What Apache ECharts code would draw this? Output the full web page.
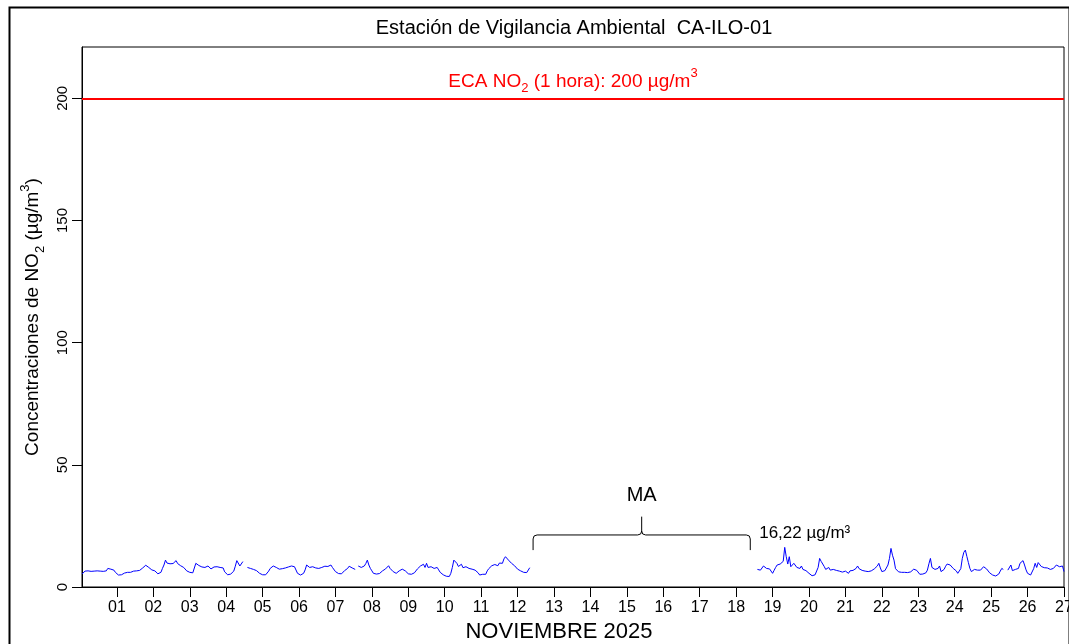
<!DOCTYPE html>
<html><head><meta charset="utf-8">
<style>html,body{margin:0;padding:0;background:#fff}#c{width:1069px;height:644px}</style>
<script src="https://cdn.jsdelivr.net/npm/echarts/dist/echarts.min.js"></script>
</head><body><div id="c"></div>
<script>
// ---------- DATA ----------
const chartTitle = 'Estación de Vigilancia Ambiental  CA-ILO-01';
const xAxisTitle = 'NOVIEMBRE 2025';
const dayLabels = ['01','02','03','04','05','06','07','08','09','10','11','12','13','14','15','16','17','18','19','20','21','22','23','24','25','26','27'];
const yTickValues = [0, 50, 100, 150, 200];
const ecaLimit = 200;
const firstHour = 1;          // first hourly record: 01 Nov 01:00
const lastHour = 648;         // 28 Nov 00:00
// hourly NO2 (µg/m³) from 01 Nov 01:00 until the monitoring gap (MA)
const no2BeforeMA = [
 5.3,6.0,6.5,6.7,6.6,6.3,6.4,6.1,6.5,6.3,6.6,6.2,6.5,6.8,6.4,7.0,6.6,7.6,7.0,7.3,6.5,6.9,6.0,5.2,
 4.9,4.8,5.0,5.4,5.7,5.9,6.0,6.1,6.0,6.3,6.5,6.4,6.6,6.9,6.8,7.2,7.8,8.3,8.9,8.5,8.0,7.6,7.0,6.6,
 6.6,6.0,5.4,5.3,6.0,7.6,9.0,11.0,9.8,9.4,9.5,9.7,9.6,9.8,10.8,9.6,9.0,8.7,8.4,8.0,7.4,6.6,6.3,6.0,
 5.6,5.8,6.3,9.7,9.0,8.8,8.6,8.2,8.4,8.0,8.3,8.6,8.0,7.4,7.0,8.2,9.0,8.3,7.6,8.0,8.6,7.8,6.2,5.6,
 5.0,4.9,5.3,5.9,6.5,8.5,10.8,10.2,8.6,8.3,10.4,null,null,8.0,7.9,7.6,7.4,7.2,6.9,6.7,6.2,5.6,5.5,5.0,
 4.9,5.0,5.3,6.5,7.6,8.2,8.6,9.0,8.0,7.2,7.3,7.4,7.5,7.6,7.8,8.0,8.2,8.5,8.6,9.4,8.3,7.6,5.6,5.2,
 4.9,5.1,5.6,7.0,9.0,8.4,8.0,8.2,8.3,8.0,7.8,7.6,7.6,7.8,8.0,8.3,8.5,8.6,8.4,8.8,9.0,8.0,7.2,6.3,
 5.9,5.5,5.3,5.4,6.2,6.7,7.3,7.6,8.5,9.0,7.8,7.4,7.2,null,8.6,8.3,8.0,8.3,8.6,9.6,11.0,9.0,7.6,6.6,
 5.6,5.3,5.3,5.3,5.5,5.9,6.6,7.0,7.4,8.0,8.7,7.6,6.9,6.3,5.9,5.6,6.0,6.6,7.0,7.3,7.0,6.6,6.0,5.4,
 5.2,5.2,5.2,5.8,6.6,7.4,8.0,8.6,9.0,9.3,8.0,9.7,8.0,8.2,8.3,8.0,7.6,7.8,8.0,7.0,6.0,5.6,5.0,4.6,
 4.4,4.2,4.3,5.6,8.0,11.0,10.2,9.7,8.4,7.6,9.3,7.9,8.1,8.3,8.0,7.6,7.5,7.3,7.1,6.9,6.6,5.8,4.9,5.0,
 5.2,4.6,5.2,6.6,7.5,8.2,8.7,9.3,9.2,9.7,8.7,9.8,10.6,9.7,11.5,12.4,11.8,11.0,10.4,9.7,9.2,8.7,8.0,7.3,
 6.9,6.6,6.3,6.0,5.6,5.9,6.5,7.9
];
const maMissingHours = 149;   // hours without data (MA)
// hourly NO2 (µg/m³) after the gap until 28 Nov 00:00
const no2AfterMA = [
 7.2,7.0,6.9,7.6,8.6,7.8,
 7.6,7.9,7.4,6.6,5.6,6.8,8.0,9.0,8.3,9.4,9.6,10.5,16.22,12.4,9.4,12.4,8.3,8.0,9.7,9.0,8.0,7.2,7.6,8.6,
 7.2,6.9,6.7,6.2,5.6,5.0,4.6,4.5,5.0,5.6,8.0,11.7,10.5,9.7,8.4,7.2,7.8,8.0,6.9,7.0,7.2,7.0,6.8,6.7,
 6.5,6.3,6.1,5.9,6.5,7.2,5.6,6.6,7.2,6.8,6.7,7.6,8.6,7.5,7.2,6.8,6.7,6.5,6.3,6.3,6.3,6.6,6.9,7.4,
 8.0,8.6,9.7,7.8,6.3,6.5,6.7,6.9,9.0,11.7,15.8,13.0,11.0,7.5,6.7,6.2,5.9,6.0,6.3,6.0,5.9,5.9,5.9,6.2,
 6.7,7.3,8.0,6.8,6.0,5.2,4.9,5.3,5.6,5.8,6.9,9.5,11.7,8.0,7.4,7.2,7.4,7.6,8.6,6.3,6.8,7.2,8.5,9.4,
 9.2,9.0,8.2,7.6,7.0,6.6,5.6,5.3,7.5,11.7,14.2,15.1,12.5,10.0,7.6,6.3,6.8,7.2,8.0,6.9,6.7,6.9,7.6,8.3,
 8.0,7.4,6.7,5.8,5.3,4.9,4.6,4.5,4.8,5.3,6.5,7.6,7.2,null,null,6.9,7.5,9.0,6.7,7.0,7.2,7.4,7.6,9.7,
 10.5,10.8,9.0,7.0,5.6,4.9,4.9,5.3,7.5,9.7,8.0,10.0,9.6,8.4,7.6,7.9,8.3,7.8,7.4,7.2,7.4,7.6,8.3,9.0,
 8.6,8.3,8.4,8.6,6.3
];

// ---------- BUILD ----------
const FONT = '"Liberation Sans", Arial, Helvetica, sans-serif';
const no2All = no2BeforeMA.concat(new Array(maMissingHours).fill(null), no2AfterMA);
const seriesData = no2All.map((v, i) => [firstHour + i, v == null ? '-' : v]);
const dayTickHours = dayLabels.map((d, k) => (k + 1) * 24);
const maFirstHour = firstHour + no2BeforeMA.length;           // first missing hour
const maLastHour = maFirstHour + maMissingHours - 1;           // last missing hour

const chart = echarts.init(document.getElementById('c'), null, {renderer: 'canvas'});
const richSubSup = {
  sub: {fontSize: 13, lineHeight: 13, verticalAlign: 'bottom', fontFamily: FONT},
  sup: {fontSize: 13, lineHeight: 13, verticalAlign: 'top', fontFamily: FONT}
};

chart.setOption({
  animation: false,
  backgroundColor: '#fff',
  grid: {left: 82, right: 5, top: 47, bottom: 57, show: true, borderColor: '#000', borderWidth: 1,
         backgroundColor: 'transparent', containLabel: false, outerBoundsMode: 'none'},
  graphic: [
    {type: 'rect', left: 7, top: 5, shape: {width: 1060, height: 660}, style: {fill: null, stroke: '#000', lineWidth: 2}, silent: true},
    {type: 'text', x: 574, y: 28, style: {text: chartTitle, font: '20px ' + FONT, fill: '#000', align: 'center', verticalAlign: 'middle'}},
    {type: 'text', x: 559, y: 632, style: {text: xAxisTitle, font: '22px ' + FONT, fill: '#000', align: 'center', verticalAlign: 'middle'}}
  ],
  xAxis: {
    type: 'value', min: firstHour, max: lastHour,
    axisLine: {show: true, onZero: false, lineStyle: {color: '#000', width: 1}},
    axisTick: {show: true, customValues: dayTickHours, length: 10, lineStyle: {color: '#000'}},
    axisLabel: {customValues: dayTickHours, formatter: v => dayLabels[Math.round(v / 24) - 1] || '', color: '#000', fontSize: 16, fontFamily: FONT, margin: 13, hideOverlap: false},
    splitLine: {show: false}
  },
  yAxis: {
    type: 'value', min: 0, max: 221,
    name: 'Concentraciones de NO{sub|2} (µg/m{sup|3})',
    nameLocation: 'middle', nameRotate: 90, nameGap: 34,
    nameTextStyle: {color: '#000', fontSize: 19, fontFamily: FONT, lineHeight: 28, rich: richSubSup},
    axisLine: {show: true, lineStyle: {color: '#000', width: 1}},
    axisTick: {show: true, customValues: yTickValues, length: 10, lineStyle: {color: '#000'}},
    axisLabel: {customValues: yTickValues, rotate: 90, color: '#000', fontSize: 15, fontFamily: FONT, margin: 12},
    splitLine: {show: false}
  },
  series: [
    {
      type: 'line', name: 'NO2', data: seriesData,
      showSymbol: false, connectNulls: false, silent: true,
      lineStyle: {color: '#0000FF', width: 1}, itemStyle: {color: '#0000FF'},
      markLine: {
        silent: true, symbol: 'none',
        data: [{yAxis: ecaLimit}],
        lineStyle: {color: '#FF0000', width: 2, type: 'solid'},
        label: {
          show: true, position: 'insideMiddleTop', distance: 3,
          formatter: () => 'ECA NO{sub|2} (1 hora): ' + ecaLimit + ' µg/m{sup|3}',
          color: '#FF0000', fontSize: 19, fontFamily: FONT, lineHeight: 28,
          rich: {sub: Object.assign({}, richSubSup.sub, {color: '#FF0000'}), sup: Object.assign({}, richSubSup.sup, {color: '#FF0000'})}
        }
      },
      markPoint: {
        silent: true, symbol: 'circle', symbolSize: 1,
        itemStyle: {color: 'rgba(0,0,0,0)'},
        data: [{type: 'max'}],
        label: {
          show: true, position: 'inside', offset: [20, -14],
          formatter: p => p.value.toFixed(2).replace('.', ',') + ' µg/m³',
          color: '#000', fontSize: 17, fontFamily: FONT
        }
      }
    },
    {
      type: 'custom', name: 'MA', silent: true, coordinateSystem: 'cartesian2d',
      data: [[maFirstHour, 0]],
      renderItem: (params, api) => {
        const xs = maFirstHour + 1.2, xe = maLastHour - 3.7;
        const xm = (xs + xe) / 2;
        const pb = api.coord([xs, 15.1]), ph = api.coord([xs, 21.3]);
        const pe = api.coord([xe, 15.1]);
        const pt = api.coord([xm, 28.8]);
        const pl = api.coord([xm, 37.5]);
        const x0 = pb[0], x1 = pe[0], xmP = pt[0], yb = pb[1], yh = ph[1], yt = pt[1];
        const r = 4;
        const d = `M${x0},${yb} L${x0},${yh + r} Q${x0},${yh} ${x0 + r},${yh} L${xmP - r},${yh} Q${xmP},${yh} ${xmP},${yh - r} L${xmP},${yt} ` +
                  `M${xmP},${yh - r} Q${xmP},${yh} ${xmP + r},${yh} L${x1 - r},${yh} Q${x1},${yh} ${x1},${yh + r} L${x1},${yb}`;
        return {type: 'group', children: [
          {type: 'path', shape: {pathData: d}, style: {stroke: '#000', fill: null, lineWidth: 1}},
          {type: 'text', style: {text: 'MA', x: pl[0], y: pl[1], align: 'center', verticalAlign: 'middle', font: '20px ' + FONT, fill: '#000'}}
        ]};
      }
    }
  ]
});
</script></body></html>
